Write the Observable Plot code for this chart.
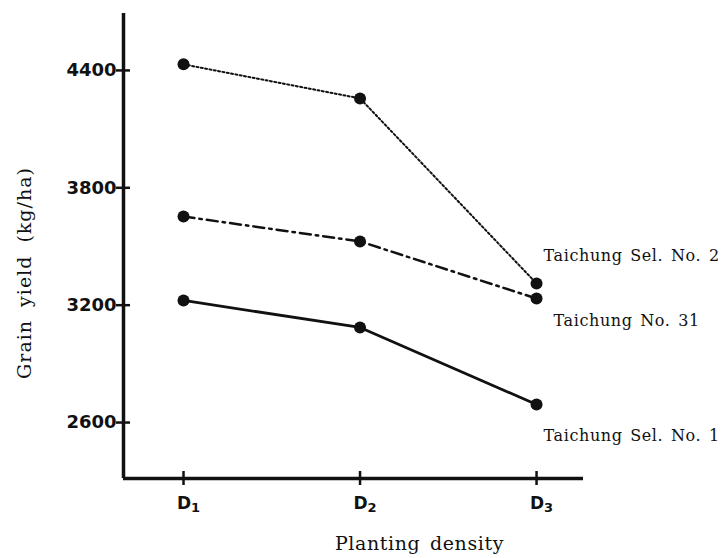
<!DOCTYPE html>
<html>
<head>
<meta charset="utf-8">
<script src="https://cdn.jsdelivr.net/npm/d3@7"></script>
<script src="https://cdn.jsdelivr.net/npm/@observablehq/plot@0.6"></script>
<style>
  html, body { margin: 0; padding: 0; background: #fff; }
  #chart svg { display: block; }
</style>
</head>
<body>
<div id="chart"></div>
<script>
// ---- data ----
const densities = ["D1", "D2", "D3"];
const densityPos = [1, 2, 3];
const selNo2 = [4431, 4257, 3311];
const no31 = [3653, 3526, 3234];
const selNo1 = [3224, 3086, 2692];
const seriesNames = ["Taichung Sel. No. 2", "Taichung No. 31", "Taichung Sel. No. 1"];
const yTicks = [2600, 3200, 3800, 4400];

// ---- layout ----
const W = 725, H = 558;
const mL = 123, mR = 142, mT = 13, mB = 80;
const xDom = [0.66, 3.266];
const yDom = [2314, 4691];
const pxX = (W - mL - mR) / (xDom[1] - xDom[0]);
const pxY = (H - mT - mB) / (yDom[1] - yDom[0]);

const rows = [];
[selNo2, no31, selNo1].forEach((vals, s) => {
  vals.forEach((v, i) => rows.push({series: seriesNames[s], x: densityPos[i], y: v}));
});
const bySeries = name => rows.filter(r => r.series === name);

const lastRows = seriesNames.map(n => bySeries(n)[2]);
const labelOffsets = [[7, -28], [17, 22], [7, 31]];

const tickHalfY = 7 / pxX;
const tickHalfX = 7 / pxY;

const chart = Plot.plot({
  width: W,
  height: H,
  marginLeft: mL,
  marginRight: mR,
  marginTop: mT,
  marginBottom: mB,
  x: {type: "linear", domain: xDom, axis: null},
  y: {type: "linear", domain: yDom, axis: null},
  style: {fontFamily: "DejaVu Serif", color: "#111", background: "#fff"},
  marks: [
    // axes lines
    Plot.ruleX([xDom[0]], {stroke: "#111", strokeWidth: 3.5}),
    Plot.ruleY([yDom[0]], {stroke: "#111", strokeWidth: 3.5}),
    // cross ticks
    Plot.ruleY(yTicks, {y: d => d, x1: xDom[0] - tickHalfY, x2: xDom[0] + tickHalfY, stroke: "#111", strokeWidth: 2.5}),
    Plot.ruleX(densityPos, {x: d => d, y1: yDom[0] - tickHalfX, y2: yDom[0] + tickHalfX, stroke: "#111", strokeWidth: 2.5}),
    // tick labels
    Plot.axisY({ticks: yTicks, tickSize: 0, tickPadding: 7, tickFormat: d => String(d), fontFamily: "DejaVu Sans", fontWeight: "bold", fontSize: 18, label: null}),
    Plot.axisX({ticks: densityPos, tickSize: 0, tickPadding: 18, dx: 5, tickFormat: d => densities[d - 1], fontFamily: "DejaVu Sans", fontWeight: "bold", fontSize: 17, label: null}),
    // lines
    Plot.line(bySeries(seriesNames[0]), {x: "x", y: "y", stroke: "#111", strokeWidth: 2, strokeDasharray: "2,2.4"}),
    Plot.line(bySeries(seriesNames[1]), {x: "x", y: "y", stroke: "#111", strokeWidth: 2.5, strokeDasharray: "11,5,2.5,5"}),
    Plot.line(bySeries(seriesNames[2]), {x: "x", y: "y", stroke: "#111", strokeWidth: 2.8}),
    Plot.dot(rows, {x: "x", y: "y", r: 6, fill: "#111", stroke: "none"}),
    // series labels
    ...lastRows.map((r, i) => Plot.text([r], {x: "x", y: "y", text: "series", textAnchor: "start", dx: labelOffsets[i][0], dy: labelOffsets[i][1], fontSize: 16, fill: "#111", className: "serieslabel"})),
    // axis titles
    Plot.text(["Grain yield (kg/ha)"], {frameAnchor: "left", textAnchor: "middle", dx: -99, dy: 27, rotate: -90, fontSize: 19, fill: "#111", className: "ytitle"}),
    Plot.text(["Planting density"], {frameAnchor: "bottom", textAnchor: "middle", dx: 66, dy: 71, fontSize: 19, fill: "#111", className: "xtitle"})
  ]
});

// subscripts on density tick labels
d3.select(chart).selectAll("g[aria-label='x-axis tick label'] text").each(function() {
  const t = d3.select(this);
  const s = t.text();
  if (/^D\d$/.test(s)) {
    t.text("D");
    t.append("tspan").attr("dy", "0.25em").attr("font-size", "13").text(s.slice(1));
  }
});
// letter spacing for serif texts
d3.select(chart).selectAll(".serieslabel text").attr("letter-spacing", "0.6").attr("word-spacing", "2");
d3.select(chart).selectAll(".ytitle text").attr("letter-spacing", "1").attr("word-spacing", "6");
d3.select(chart).selectAll(".xtitle text").attr("letter-spacing", "0.6").attr("word-spacing", "3");

document.getElementById("chart").appendChild(chart);
</script>
</body>
</html>
